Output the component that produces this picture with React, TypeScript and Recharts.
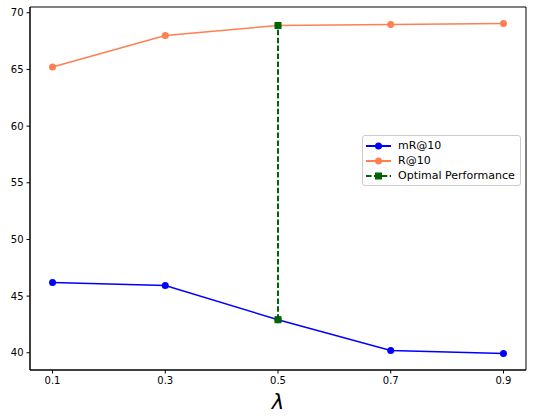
import React from "react";
import {
  Legend,
  Line,
  LineChart,
  ReferenceArea,
  XAxis,
  YAxis,
} from "recharts";

const lambdas = [0.1, 0.3, 0.5, 0.7, 0.9];
const mR10 = [46.2, 45.93, 42.92, 40.2, 39.94];
const R10 = [65.22, 67.99, 68.88, 68.96, 69.05];
const xTicks = [0.1, 0.3, 0.5, 0.7, 0.9];
const yTicks = [40, 45, 50, 55, 60, 65, 70];
const optimalIndex = 2;

const X_DOMAIN: [number, number] = [0.06, 0.94];
const Y_DOMAIN: [number, number] = [38.48, 70.51];
const FONT = "'DejaVu Sans', sans-serif";

const chartData = lambdas.map((x, i) => ({ x, mR: mR10[i], R: R10[i] }));
const optimalData = [
  { x: lambdas[optimalIndex], opt: mR10[optimalIndex] },
  { x: lambdas[optimalIndex], opt: R10[optimalIndex] },
];

const SquareDot = (props: any) => {
  const { cx, cy } = props;
  if (cx == null || cy == null) return null;
  return <rect x={cx - 3.5} y={cy - 3.5} width={7} height={7} fill="#006400" />;
};

function LegendBox() {
  const rows = [
    { label: "mR@10", color: "#0000ff", dash: false, square: false },
    { label: "R@10", color: "#ff7f50", dash: false, square: false },
    { label: "Optimal Performance", color: "#006400", dash: true, square: true },
  ];
  return (
    <div
      style={{
        border: "1px solid #cccccc",
        borderRadius: 3,
        background: "rgba(255,255,255,0.8)",
        padding: "2px 5px 2px 3px",
        fontFamily: FONT,
        fontSize: 11,
        color: "#000",
      }}
    >
      {rows.map((r) => (
        <div key={r.label} style={{ display: "flex", alignItems: "center", height: 15 }}>
          <svg width={25} height={10} style={{ marginRight: 7 }}>
            <line
              x1={0}
              y1={5}
              x2={25}
              y2={5}
              stroke={r.color}
              strokeWidth={2}
              strokeDasharray={r.dash ? "5.5 2.4" : undefined}
            />
            {r.square ? (
              <rect x={9} y={1.5} width={7} height={7} fill={r.color} />
            ) : (
              <circle cx={12.5} cy={5} r={3.5} fill={r.color} />
            )}
          </svg>
          <span>{r.label}</span>
        </div>
      ))}
    </div>
  );
}

export default function App() {
  return (
    <div style={{ position: "absolute", left: 0, top: 0, width: 533, height: 420, background: "#fff" }}>
      <LineChart
        width={533}
        height={420}
        data={chartData}
        margin={{ top: 7, right: 7, left: 0, bottom: 0 }}
      >
        <XAxis
          dataKey="x"
          type="number"
          domain={X_DOMAIN}
          ticks={xTicks}
          allowDataOverflow
          height={50}
          stroke="#000"
          tickSize={3.5}
          tickMargin={3}
          tick={{ fill: "#000", fontSize: 10, fontFamily: FONT }}
          label={{
            value: "λ",
            position: "insideBottom",
            offset: 11,
            style: { fontSize: 21, fontStyle: "italic", fontFamily: FONT, fill: "#000" },
          }}
        />
        <YAxis
          type="number"
          domain={Y_DOMAIN}
          ticks={yTicks}
          allowDataOverflow
          width={30}
          stroke="#000"
          tickSize={3.5}
          tickMargin={3}
          tick={{ fill: "#000", fontSize: 10, fontFamily: FONT }}
        />
        <ReferenceArea
          x1={X_DOMAIN[0]}
          x2={X_DOMAIN[1]}
          y1={Y_DOMAIN[0]}
          y2={Y_DOMAIN[1]}
          fill="none"
          stroke="#000"
          strokeWidth={1}
          ifOverflow="visible"
        />
        <Line
          dataKey="mR"
          stroke="#0000ff"
          strokeWidth={1.5}
          dot={{ r: 3.5, fill: "#0000ff", stroke: "none" }}
          activeDot={false}
          isAnimationActive={false}
        />
        <Line
          dataKey="R"
          stroke="#ff7f50"
          strokeWidth={1.5}
          dot={{ r: 3.5, fill: "#ff7f50", stroke: "none" }}
          activeDot={false}
          isAnimationActive={false}
        />
        <Line
          data={optimalData}
          dataKey="opt"
          stroke="#006400"
          strokeWidth={2}
          strokeDasharray="5.5 2.4"
          dot={<SquareDot />}
          activeDot={false}
          isAnimationActive={false}
        />
        <Legend
          layout="horizontal"
          verticalAlign="middle"
          align="center"
          content={() => <LegendBox />}
          wrapperStyle={{ left: 362, top: 135, width: "auto", height: "auto" }}
        />
      </LineChart>
    </div>
  );
}
